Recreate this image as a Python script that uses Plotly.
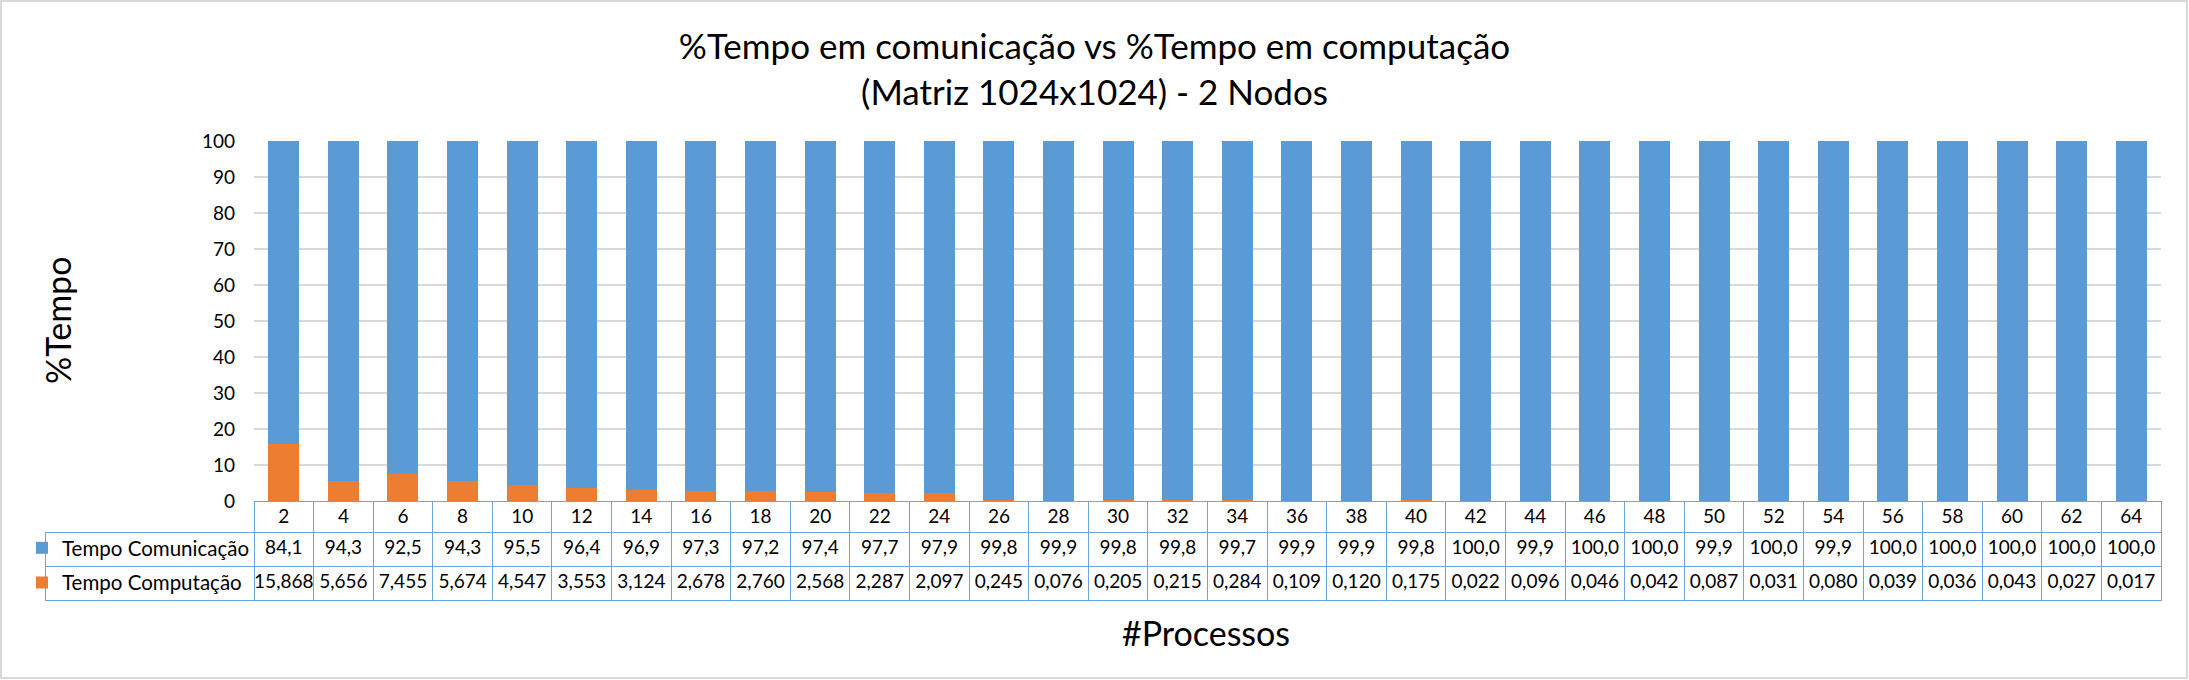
import plotly.graph_objects as go

# ---- data ----
processos = [2, 4, 6, 8, 10, 12, 14, 16, 18, 20, 22, 24, 26, 28, 30, 32,
             34, 36, 38, 40, 42, 44, 46, 48, 50, 52, 54, 56, 58, 60, 62, 64]
tempo_comunicacao = [84.1, 94.3, 92.5, 94.3, 95.5, 96.4, 96.9, 97.3, 97.2, 97.4, 97.7, 97.9,
                     99.8, 99.9, 99.8, 99.8, 99.7, 99.9, 99.9, 99.8, 100.0, 99.9, 100.0, 100.0,
                     99.9, 100.0, 99.9, 100.0, 100.0, 100.0, 100.0, 100.0]
tempo_computacao = [15.868, 5.656, 7.455, 5.674, 4.547, 3.553, 3.124, 2.678, 2.760, 2.568, 2.287, 2.097,
                    0.245, 0.076, 0.205, 0.215, 0.284, 0.109, 0.120, 0.175, 0.022, 0.096, 0.046, 0.042,
                    0.087, 0.031, 0.080, 0.039, 0.036, 0.043, 0.027, 0.017]
serie_com = "Tempo Comunicação"
serie_cmp = "Tempo Computação"
titulo = "%Tempo em comunicação vs %Tempo em computação<br>(Matriz 1024x1024) - 2 Nodos"
titulo_y = "%Tempo"
titulo_x = "#Processos"

# ---- styles ----
W, H = 2189, 680
FONT = "Lato"
BLUE = "#5B9BD5"
ORANGE = "#ED7D31"
GRID = "#D9D9D9"
TBL_LINE = "#6FA3DB"
TXT = "#000000"
TFS = 19

cats = [str(p) for p in processos]

def fmt(v, d):
    return f"{v:.{d}f}".replace(".", ",")

def px_x(p):
    return p / W

def px_y(p):
    return 1 - p / H

x0, x1 = 254, 2161
y_top, y_zero = 141, 501
tbl_left = 45
first_col_w = x0 - tbl_left
col_w = (x1 - x0) / len(cats)

fig = go.Figure()
fig.add_trace(go.Bar(x=cats, y=tempo_computacao, name=serie_cmp, legendgroup="cmp", legendrank=2,
                     marker=dict(color=ORANGE, line=dict(width=0))))
fig.add_trace(go.Bar(x=cats, y=tempo_comunicacao, name=serie_com, legendgroup="com", legendrank=1,
                     marker=dict(color=BLUE, line=dict(width=0))))


def table_row(values, top, height, with_label_col):
    """One row of the chart's data table (drawn as a header-only go.Table)."""
    left = tbl_left if with_label_col else x0
    widths = ([first_col_w] if with_label_col else []) + [col_w] * len(cats)
    vals = ([""] if with_label_col else []) + values
    return go.Table(
        domain=dict(x=[px_x(left), px_x(x1)], y=[px_y(top + height + 3), px_y(top)]),
        columnwidth=widths,
        header=dict(values=vals, height=height, align="center",
                    fill=dict(color="white"), line=dict(color=TBL_LINE, width=1),
                    font=dict(family=FONT, size=TFS, color=TXT)),
        cells=dict(values=[[] for _ in vals]),
    )


fig.add_trace(table_row(cats, 501, 31, False))
fig.add_trace(table_row([fmt(v, 1) for v in tempo_comunicacao], 532, 34, True))
fig.add_trace(table_row([fmt(v, 3) for v in tempo_computacao], 566, 34, True))

fig.update_layout(
    width=W, height=H,
    margin=dict(l=0, r=0, t=0, b=0, autoexpand=False),
    paper_bgcolor="white", plot_bgcolor="white",
    barmode="stack", bargap=0.48,
    showlegend=True,
    legend=dict(x=px_x(22), xanchor="left", y=px_y(528), yanchor="top",
                bgcolor="rgba(0,0,0,0)", borderwidth=0, tracegroupgap=5,
                font=dict(family=FONT, size=20.5, color=TXT)),
    separators=",.",
    font=dict(family=FONT, color=TXT),
    title=dict(text=titulo, x=0.5, xanchor="center", y=px_y(59), yanchor="top",
               yref="container", font=dict(family=FONT, size=35, color=TXT)),
    xaxis=dict(domain=[px_x(x0), px_x(x1)], type="category", showticklabels=False,
               showgrid=False, zeroline=False, showline=False, ticks="", automargin=False),
    yaxis=dict(domain=[px_y(y_zero), px_y(y_top)], range=[0, 100], dtick=10,
               showgrid=True, gridcolor=GRID, gridwidth=2, zeroline=False, showline=False,
               ticks="", ticklabelstandoff=18, automargin=False,
               tickfont=dict(family=FONT, size=TFS, color=TXT)),
    annotations=[
        dict(text=titulo_y, textangle=-90, xref="paper", yref="paper",
             x=px_x(57), y=px_y(321), xanchor="center", yanchor="middle",
             showarrow=False, font=dict(family=FONT, size=34, color=TXT)),
        dict(text=titulo_x, xref="paper", yref="paper",
             x=px_x(1206), y=px_y(632), xanchor="center", yanchor="middle",
             showarrow=False, font=dict(family=FONT, size=34, color=TXT)),
    ],
    shapes=[dict(type="rect", xref="paper", yref="paper",
                 x0=px_x(1), x1=px_x(2187), y0=px_y(678), y1=px_y(1),
                 line=dict(color=GRID, width=2), fillcolor="rgba(0,0,0,0)", layer="below")],
)

fig.write_html("out.html", config={"displayModeBar": False},
               post_script="document.body.style.margin='0';document.body.style.overflow='hidden';")
